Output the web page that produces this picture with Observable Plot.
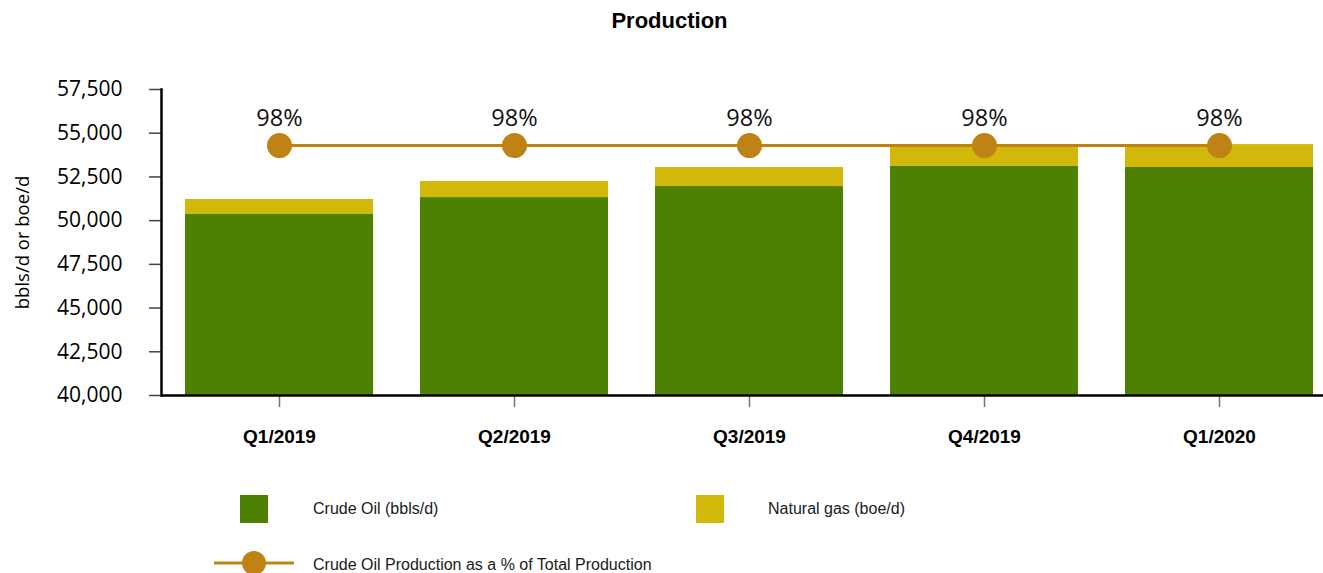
<!DOCTYPE html>
<html>
<head>
<meta charset="utf-8">
<script src="https://cdn.jsdelivr.net/npm/d3@7"></script>
<script src="https://cdn.jsdelivr.net/npm/@observablehq/plot@0.6"></script>
<style>
  body { margin: 0; background: #fff; }
  #wrap { position: relative; width: 1323px; height: 573px; overflow: hidden; font-family: "Liberation Sans", Arial, sans-serif; }
  #title { position: absolute; left: 16px; right: 0; top: 0; height: 42px; line-height: 42px; text-align: center; font-weight: bold; font-size: 22px; color: #000; }
  #chart { position: absolute; left: 0; top: 45px; }
  .sw { position: absolute; width: 28px; height: 28px; }
  .lt { position: absolute; font-size: 16px; line-height: 18px; color: #1a1a1a; white-space: nowrap; }
  .ls { position: absolute; }
</style>
</head>
<body>
<div id="wrap">
  <div id="title">Production</div>
  <div id="chart"></div>
</div>
<script>
// ---- data ----
const quarters = ["Q1/2019", "Q2/2019", "Q3/2019", "Q4/2019", "Q1/2020"];
const crudeOil = [50350, 51320, 51950, 53100, 53040];    // bbls/d
const naturalGas = [860, 920, 1090, 1160, 1310];          // boe/d
const crudePct = [98, 98, 98, 98, 98];                    // % of total production
const seriesNames = ["Crude Oil (bbls/d)", "Natural gas (boe/d)"];
const seriesColors = ["#4E8102", "#D2B80B"];
const lineName = "Crude Oil Production as a % of Total Production";
const lineColor = "#BF8214";
const yTicks = [40000, 42500, 45000, 47500, 50000, 52500, 55000, 57500];
const yDomain = [40000, 57500];
const pctDomain = [0, 120]; // hidden secondary axis

// ---- tables ----
const rows = [];
quarters.forEach((q, i) => {
  rows.push({quarter: q, series: seriesNames[0], value: crudeOil[i]});
  rows.push({quarter: q, series: seriesNames[1], value: naturalGas[i]});
});
const pctRows = quarters.map((q, i) => ({quarter: q, pct: crudePct[i]}));
const pctScale = d3.scaleLinear().domain(pctDomain).range(yDomain);

const chart = Plot.plot({
  width: 1323,
  height: 420,
  marginLeft: 161,
  marginRight: 0,
  marginTop: 44,
  marginBottom: 70,
  style: {fontFamily: "'Open Sans', sans-serif", background: "transparent", overflow: "visible"},
  x: {domain: quarters, range: [161.5, 1336.5], paddingInner: 0.2, paddingOuter: 0.1, label: null},
  y: {domain: yDomain, label: null},
  color: {domain: seriesNames, range: seriesColors},
  marks: [
    Plot.barY(rows, {x: "quarter", y: "value", fill: "series", order: null, clip: true}),
    Plot.axisY({ticks: yTicks, tickSize: 12, tickPadding: 27, tickFormat: d3.format(","),
      fontSize: 21, stroke: "#444", strokeWidth: 1.5, fill: "#000", label: null}),
    Plot.axisY({ticks: [], label: "bbls/d or boe/d", labelAnchor: "center", labelArrow: "none",
      labelOffset: 146, fontSize: 18.5, fill: "#000"}),
    Plot.axisX({tickSize: 12, tickPadding: 22, fontSize: 19, fontWeight: "bold",
      fontFamily: "'Liberation Sans', Arial, sans-serif", stroke: "#777", strokeWidth: 1.5, fill: "#000", label: null}),
    Plot.ruleY([yDomain[0]], {stroke: "#000", strokeWidth: 2.5}),
    Plot.frame({anchor: "left", stroke: "#000", strokeWidth: 2.5}),
    Plot.line(pctRows, {x: "quarter", y: d => pctScale(d.pct), stroke: lineColor, strokeWidth: 3}),
    Plot.dot(pctRows, {x: "quarter", y: d => pctScale(d.pct), r: 12.5, fill: lineColor, stroke: null}),
    Plot.text(pctRows, {x: "quarter", y: d => pctScale(d.pct), text: d => d.pct + "%", dy: -27,
      fontSize: 23.5, fill: "#111"})
  ]
});
document.getElementById("chart").appendChild(chart);

// ---- legend (HTML) ----
const wrap = document.getElementById("wrap");
const legendPos = [{sx: 240, tx: 313}, {sx: 696, tx: 768}];
seriesNames.forEach((name, i) => {
  const sw = document.createElement("div");
  sw.className = "sw";
  sw.style.left = legendPos[i].sx + "px";
  sw.style.top = "495px";
  sw.style.background = seriesColors[i];
  wrap.appendChild(sw);
  const t = document.createElement("div");
  t.className = "lt";
  t.style.left = legendPos[i].tx + "px";
  t.style.top = "500px";
  t.textContent = name;
  wrap.appendChild(t);
});
const ls = document.createElementNS("http://www.w3.org/2000/svg", "svg");
ls.setAttribute("width", 80); ls.setAttribute("height", 26);
ls.setAttribute("class", "ls");
ls.style.left = "214px"; ls.style.top = "550px";
ls.innerHTML = `<line x1="0" x2="80" y1="13" y2="13" stroke="${lineColor}" stroke-width="3"/><circle cx="40" cy="13" r="12" fill="${lineColor}"/>`;
wrap.appendChild(ls);
const lt = document.createElement("div");
lt.className = "lt";
lt.style.left = "313px"; lt.style.top = "556px";
lt.textContent = lineName;
wrap.appendChild(lt);
</script>
</body>
</html>
